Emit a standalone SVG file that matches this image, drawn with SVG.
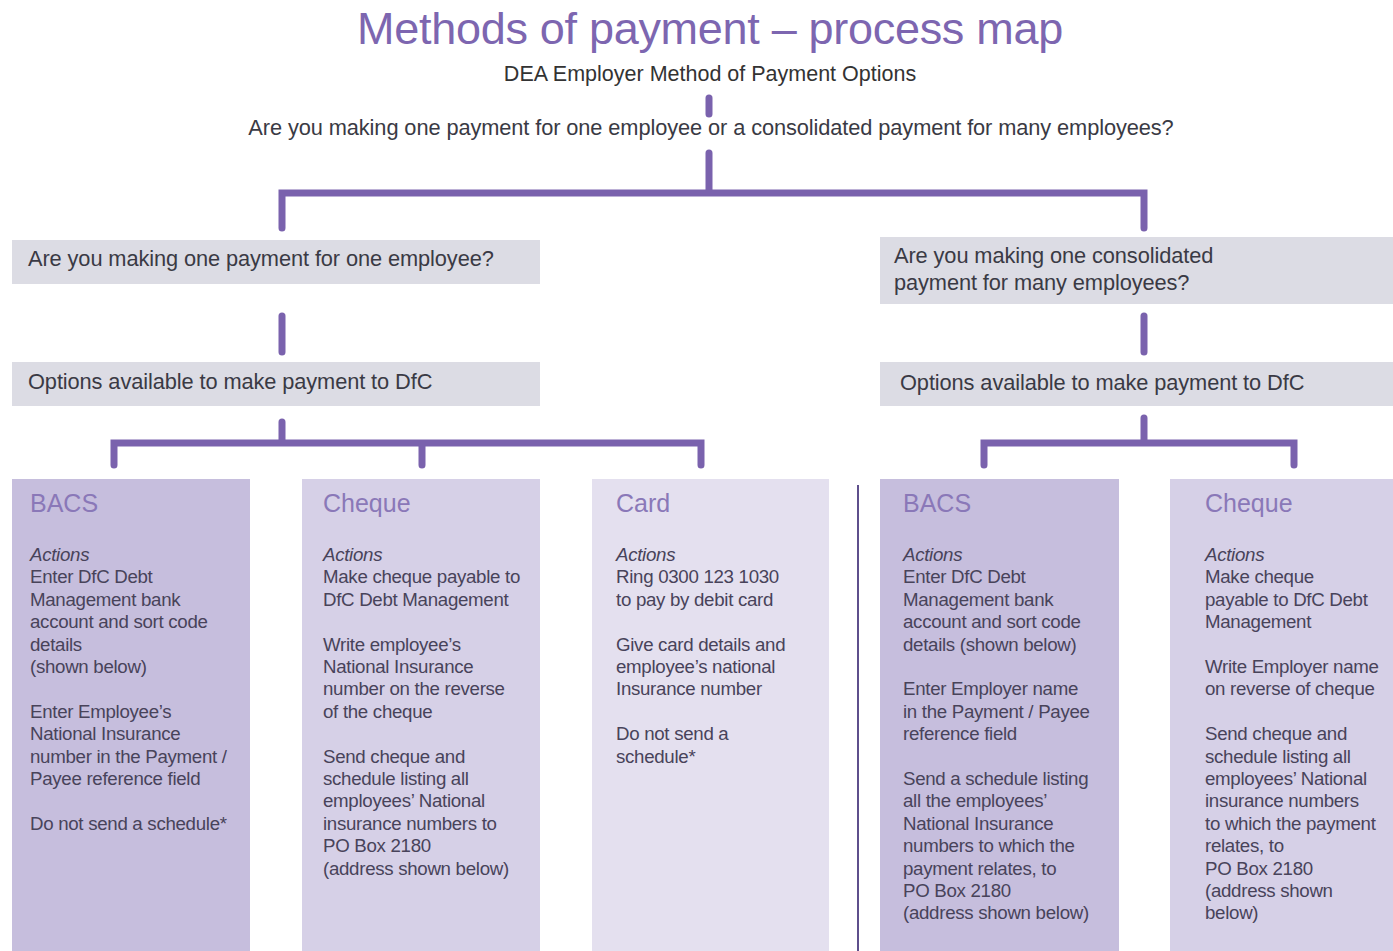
<svg xmlns="http://www.w3.org/2000/svg" width="1393" height="951" viewBox="0 0 1393 951">
<style>
text{font-family:"Liberation Sans",Arial,sans-serif;fill:#3e3a48}
.title{font-size:45px;fill:#7d66b0;text-anchor:middle;letter-spacing:-0.3px}
.sub{font-size:21.5px;text-anchor:middle;fill:#333}
.q{font-size:21.8px;fill:#3a3a44;letter-spacing:-0.1px}
.qbox{fill:#dcdce4}
.head{font-size:25px;fill:#8a78b8}
.body{font-size:18.7px;letter-spacing:-0.3px;fill:#48435a}
.it{font-style:italic}
.c1{fill:#c6bedd}
.c2{fill:#d6d0e7}
.c3{fill:#e4e0ef}
.conn{stroke:#7a62ad;stroke-width:7;fill:none;stroke-linecap:round;stroke-linejoin:miter}
</style>
<rect width="1393" height="951" fill="#ffffff"/>
<g id="title">
<text class="title" x="710" y="44">Methods of payment – process map</text>
<text class="sub" x="710" y="81">DEA Employer Method of Payment Options</text>
</g>
<g id="connectors">
<line class="conn" x1="709" y1="98" x2="709" y2="114"/>
<path class="conn" d="M709 153 V193 M282 228 V193 H1144 V228"/>
<line class="conn" x1="282" y1="316" x2="282" y2="352"/>
<line class="conn" x1="1144" y1="316" x2="1144" y2="352"/>
<path class="conn" d="M282 422 V443 M114 465 V443 H701 V465 M422 443 V465"/>
<path class="conn" d="M1144 418 V443 M984 465 V443 H1294 V465"/>
<line x1="858" y1="485" x2="858" y2="951" stroke="#5e4f8c" stroke-width="2"/>
</g>
<g id="question">
<text class="q" x="711" y="135" text-anchor="middle">Are you making one payment for one employee or a consolidated payment for many employees?</text>
</g>
<g id="one-employee">
<rect class="qbox" x="12" y="240" width="528" height="44"/>
<text class="q" x="28" y="266">Are you making one payment for one employee?</text>
</g>
<g id="many-employees">
<rect class="qbox" x="880" y="237" width="513" height="67"/>
<text class="q" x="894" y="263">Are you making one consolidated</text>
<text class="q" x="894" y="290">payment for many employees?</text>
</g>
<g id="options-left">
<rect class="qbox" x="12" y="362" width="528" height="44"/>
<text class="q" x="28" y="389">Options available to make payment to DfC</text>
</g>
<g id="options-right">
<rect class="qbox" x="880" y="362" width="513" height="44"/>
<text class="q" x="900" y="390">Options available to make payment to DfC</text>
</g>
<g id="bacs-left">
<rect class="c1" x="12" y="479" width="238" height="472"/>
<text class="head" x="30" y="512">BACS</text>
<text class="body" x="30" y="561"><tspan class="it">Actions</tspan><tspan x="30" dy="22.4">Enter DfC Debt</tspan><tspan x="30" dy="22.4">Management bank</tspan><tspan x="30" dy="22.4">account and sort code</tspan><tspan x="30" dy="22.4">details</tspan><tspan x="30" dy="22.4">(shown below)</tspan><tspan x="30" dy="44.8">Enter Employee’s</tspan><tspan x="30" dy="22.4">National Insurance</tspan><tspan x="30" dy="22.4">number in the Payment /</tspan><tspan x="30" dy="22.4">Payee reference field</tspan><tspan x="30" dy="44.8">Do not send a schedule*</tspan></text>
</g>
<g id="cheque-left">
<rect class="c2" x="302" y="479" width="238" height="472"/>
<text class="head" x="323" y="512">Cheque</text>
<text class="body" x="323" y="561"><tspan class="it">Actions</tspan><tspan x="323" dy="22.4">Make cheque payable to</tspan><tspan x="323" dy="22.4">DfC Debt Management</tspan><tspan x="323" dy="44.8">Write employee’s</tspan><tspan x="323" dy="22.4">National Insurance</tspan><tspan x="323" dy="22.4">number on the reverse</tspan><tspan x="323" dy="22.4">of the cheque</tspan><tspan x="323" dy="44.8">Send cheque and</tspan><tspan x="323" dy="22.4">schedule listing all</tspan><tspan x="323" dy="22.4">employees’ National</tspan><tspan x="323" dy="22.4">insurance numbers to</tspan><tspan x="323" dy="22.4">PO Box 2180</tspan><tspan x="323" dy="22.4">(address shown below)</tspan></text>
</g>
<g id="card">
<rect class="c3" x="592" y="479" width="237" height="472"/>
<text class="head" x="616" y="512">Card</text>
<text class="body" x="616" y="561"><tspan class="it">Actions</tspan><tspan x="616" dy="22.4">Ring 0300 123 1030</tspan><tspan x="616" dy="22.4">to pay by debit card</tspan><tspan x="616" dy="44.8">Give card details and</tspan><tspan x="616" dy="22.4">employee’s national</tspan><tspan x="616" dy="22.4">Insurance number</tspan><tspan x="616" dy="44.8">Do not send a</tspan><tspan x="616" dy="22.4">schedule*</tspan></text>
</g>
<g id="bacs-right">
<rect class="c1" x="880" y="479" width="239" height="472"/>
<text class="head" x="903" y="512">BACS</text>
<text class="body" x="903" y="561"><tspan class="it">Actions</tspan><tspan x="903" dy="22.4">Enter DfC Debt</tspan><tspan x="903" dy="22.4">Management bank</tspan><tspan x="903" dy="22.4">account and sort code</tspan><tspan x="903" dy="22.4">details (shown below)</tspan><tspan x="903" dy="44.8">Enter Employer name</tspan><tspan x="903" dy="22.4">in the Payment / Payee</tspan><tspan x="903" dy="22.4">reference field</tspan><tspan x="903" dy="44.8">Send a schedule listing</tspan><tspan x="903" dy="22.4">all the employees’</tspan><tspan x="903" dy="22.4">National Insurance</tspan><tspan x="903" dy="22.4">numbers to which the</tspan><tspan x="903" dy="22.4">payment relates, to</tspan><tspan x="903" dy="22.4">PO Box 2180</tspan><tspan x="903" dy="22.4">(address shown below)</tspan></text>
</g>
<g id="cheque-right">
<rect class="c2" x="1170" y="479" width="223" height="472"/>
<text class="head" x="1205" y="512">Cheque</text>
<text class="body" x="1205" y="561"><tspan class="it">Actions</tspan><tspan x="1205" dy="22.4">Make cheque</tspan><tspan x="1205" dy="22.4">payable to DfC Debt</tspan><tspan x="1205" dy="22.4">Management</tspan><tspan x="1205" dy="44.8">Write Employer name</tspan><tspan x="1205" dy="22.4">on reverse of cheque</tspan><tspan x="1205" dy="44.8">Send cheque and</tspan><tspan x="1205" dy="22.4">schedule listing all</tspan><tspan x="1205" dy="22.4">employees’ National</tspan><tspan x="1205" dy="22.4">insurance numbers</tspan><tspan x="1205" dy="22.4">to which the payment</tspan><tspan x="1205" dy="22.4">relates, to</tspan><tspan x="1205" dy="22.4">PO Box 2180</tspan><tspan x="1205" dy="22.4">(address shown</tspan><tspan x="1205" dy="22.4">below)</tspan></text>
</g>
</svg>
